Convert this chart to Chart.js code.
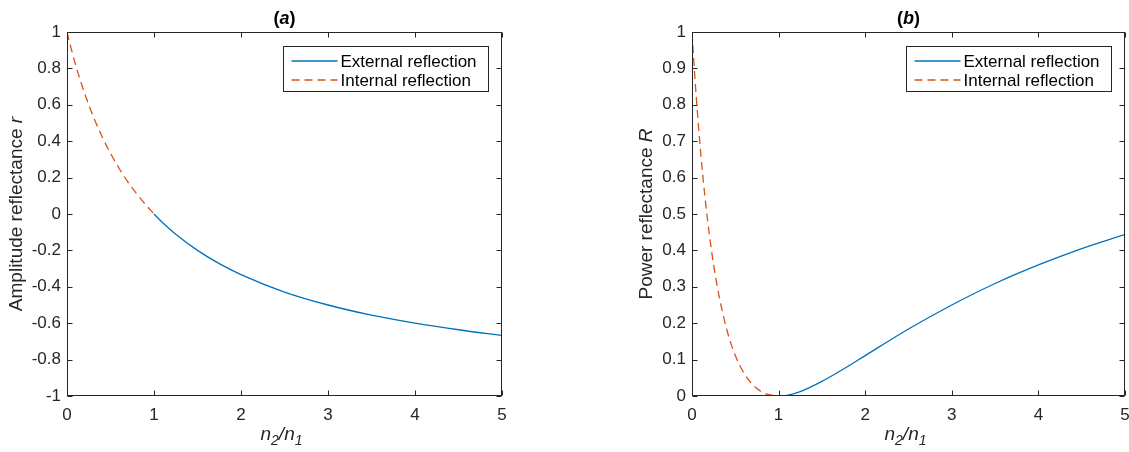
<!DOCTYPE html>
<html>
<head>
<meta charset="utf-8">
<script src="https://cdn.jsdelivr.net/npm/chart.js@4.4.1/dist/chart.umd.min.js"></script>
<style>
  html, body { margin: 0; padding: 0; background: #fff; overflow: hidden; }
  #wrap { position: relative; width: 1129px; height: 452px; }
  canvas { position: absolute; top: 0; }
  #chartA { left: 0; }
  #chartB { left: 560px; }
</style>
</head>
<body>
<div id="wrap">
  <canvas id="chartA" width="560" height="452"></canvas>
  <canvas id="chartB" width="580" height="452"></canvas>
</div>
<script>
// refractive index ratio n2/n1 sampled along each branch
const nInternal = [0, 0.025, 0.05, 0.1, 0.15, 0.2, 0.25, 0.3, 0.4, 0.5, 0.6, 0.7, 0.8, 0.9, 1];
const nExternal = [1, 1.1, 1.25, 1.5, 1.75, 2, 2.5, 3, 3.5, 4, 4.5, 5];

// amplitude reflectance r
const rInternal = [1, 0.951, 0.905, 0.818, 0.739, 0.667, 0.6, 0.538, 0.429, 0.333, 0.25, 0.176, 0.111, 0.053, 0];
const rExternal = [0, -0.048, -0.111, -0.2, -0.273, -0.333, -0.429, -0.5, -0.556, -0.6, -0.636, -0.667];

// power reflectance R
const RInternal = [1, 0.905, 0.819, 0.669, 0.546, 0.444, 0.36, 0.29, 0.184, 0.111, 0.063, 0.031, 0.012, 0.003, 0];
const RExternal = [0, 0.002, 0.012, 0.04, 0.074, 0.111, 0.184, 0.25, 0.309, 0.36, 0.405, 0.444];

const seriesLabels = ['External reflection', 'Internal reflection'];
const xTickRange = [0, 5, 1];          // min, max, step
const rTickRange = [-1, 1, 0.2];
const RTickRange = [0, 1, 0.1];

const FONT = "'Liberation Sans', Arial, Helvetica, sans-serif";
const AXIS_COLOR = '#262626';
const BLUE = '#0072BD';
const ORANGE = '#D95319';
const TICK_LEN = 5;

Chart.defaults.font.family = FONT;

function toPoints(xs, ys) {
  return xs.map((x, i) => ({ x: x, y: ys[i] }));
}

// draw a sequence of differently styled text pieces, centred on x
function drawRuns(ctx, runs, x, y) {
  let total = 0;
  runs.forEach(r => { ctx.font = r.font; total += ctx.measureText(r.text).width; });
  let cx = x - total / 2;
  ctx.textAlign = 'left';
  ctx.textBaseline = 'alphabetic';
  runs.forEach(r => {
    ctx.font = r.font;
    ctx.fillText(r.text, cx, y + (r.dy || 0));
    cx += ctx.measureText(r.text).width;
  });
}

const frame = {
  id: 'frame',
  afterDraw(chart, args, opts) {
    const ctx = chart.ctx;
    const a = chart.chartArea;
    const xs = chart.scales.x;
    const ys = chart.scales.y;
    ctx.save();

    // box + inward ticks on all four sides
    ctx.strokeStyle = AXIS_COLOR;
    ctx.lineWidth = 1;
    const L = Math.round(a.left) + 0.5, R = Math.round(a.right) - 0.5;
    const T = Math.round(a.top) + 0.5, B = Math.round(a.bottom) - 0.5;
    ctx.strokeRect(L, T, R - L, B - T);
    ctx.beginPath();
    xs.ticks.forEach(t => {
      const px = Math.round(xs.getPixelForValue(t.value)) + 0.5;
      ctx.moveTo(px, B); ctx.lineTo(px, B - TICK_LEN);
      ctx.moveTo(px, T); ctx.lineTo(px, T + TICK_LEN);
    });
    ys.ticks.forEach(t => {
      const py = Math.round(ys.getPixelForValue(t.value)) + 0.5;
      ctx.moveTo(L, py); ctx.lineTo(L + TICK_LEN, py);
      ctx.moveTo(R, py); ctx.lineTo(R - TICK_LEN, py);
    });
    ctx.stroke();

    // legend in the top right corner of the axes
    const bw = 205, bh = 45;
    const bx = Math.round(a.right) - 14 - bw + 0.5;
    const by = Math.round(a.top) + 14 + 0.5;
    ctx.fillStyle = '#fff';
    ctx.fillRect(bx, by, bw, bh);
    ctx.strokeStyle = AXIS_COLOR;
    ctx.strokeRect(bx, by, bw, bh);
    chart.data.datasets.forEach((ds, i) => {
      const yy = by + 14.5 + i * 19;
      ctx.strokeStyle = ds.borderColor;
      ctx.lineWidth = 1.3;
      ctx.setLineDash(ds.borderDash || []);
      ctx.beginPath();
      ctx.moveTo(bx + 8, yy);
      ctx.lineTo(bx + 54, yy);
      ctx.stroke();
      ctx.setLineDash([]);
      ctx.fillStyle = '#000';
      ctx.font = '17px ' + FONT;
      ctx.textAlign = 'left';
      ctx.textBaseline = 'middle';
      ctx.fillText(ds.label, bx + 57, yy + 1);
    });

    const cx = (a.left + a.right) / 2;
    ctx.fillStyle = '#000';

    // panel title, e.g. (a)
    drawRuns(ctx, [
      { text: '(', font: 'bold 18px ' + FONT },
      { text: opts.panel, font: 'italic bold 18px ' + FONT },
      { text: ')', font: 'bold 18px ' + FONT }
    ], cx, 24);

    // x label n2/n1
    ctx.fillStyle = AXIS_COLOR;
    const it = 'italic 19px ' + FONT, sub = 'italic 14px ' + FONT;
    drawRuns(ctx, [
      { text: 'n', font: it },
      { text: '2', font: sub, dy: 5 },
      { text: '/', font: it },
      { text: 'n', font: it },
      { text: '1', font: sub, dy: 5 }
    ], cx - 3, 440);

    // y label, rotated
    ctx.translate(opts.yLabelX, (a.top + a.bottom) / 2);
    ctx.rotate(-Math.PI / 2);
    drawRuns(ctx, [
      { text: opts.yLabel + ' ', font: '19px ' + FONT },
      { text: opts.ySymbol, font: it }
    ], 0, 0);

    ctx.restore();
  }
};

function makeChart(id, internal, external, yRange, pad, yWidth, frameOpts) {
  return new Chart(document.getElementById(id), {
    type: 'line',
    data: {
      datasets: [
        {
          label: seriesLabels[0],
          data: toPoints(nExternal, external),
          borderColor: BLUE,
          borderWidth: 1.3,
          pointRadius: 0,
          cubicInterpolationMode: 'monotone'
        },
        {
          label: seriesLabels[1],
          data: toPoints(nInternal, internal),
          borderColor: ORANGE,
          borderWidth: 1.3,
          borderDash: [8, 5],
          pointRadius: 0,
          cubicInterpolationMode: 'monotone'
        }
      ]
    },
    options: {
      responsive: false,
      animation: false,
      layout: { padding: pad },
      plugins: {
        legend: { display: false },
        tooltip: { enabled: false },
        frame: frameOpts
      },
      scales: {
        x: {
          type: 'linear',
          min: xTickRange[0],
          max: xTickRange[1],
          grid: { display: false, drawTicks: false },
          border: { display: false },
          ticks: {
            stepSize: xTickRange[2],
            padding: 9,
            color: AXIS_COLOR,
            font: { size: 17 },
            maxRotation: 0
          },
          afterFit(scale) { scale.height = 56; }
        },
        y: {
          min: yRange[0],
          max: yRange[1],
          grid: { display: false, drawTicks: false },
          border: { display: false },
          ticks: {
            stepSize: yRange[2],
            padding: 6,
            color: AXIS_COLOR,
            font: { size: 17 },
            callback: v => String(Number(v.toFixed(2)))
          },
          afterFit(scale) { scale.width = yWidth; }
        }
      }
    },
    plugins: [frame]
  });
}

makeChart('chartA', rInternal, rExternal, rTickRange,
  { left: 0, right: 58, top: 32, bottom: 0 }, 67,
  { panel: 'a', yLabel: 'Amplitude reflectance', ySymbol: 'r', yLabelX: 22 });

makeChart('chartB', RInternal, RExternal, RTickRange,
  { left: 0, right: 15, top: 32, bottom: 0 }, 132,
  { panel: 'b', yLabel: 'Power reflectance', ySymbol: 'R', yLabelX: 92 });
</script>
</body>
</html>
